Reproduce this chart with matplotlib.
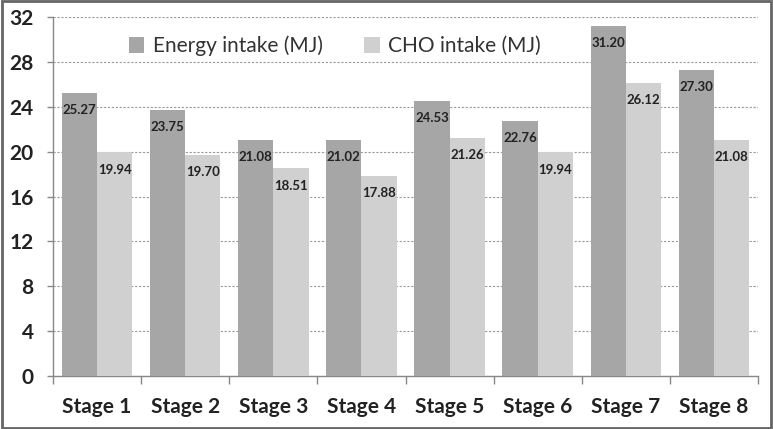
import matplotlib
matplotlib.use("Agg")
import matplotlib.pyplot as plt
import numpy as np
from matplotlib.patches import Rectangle

categories = ["Stage 1", "Stage 2", "Stage 3", "Stage 4", "Stage 5", "Stage 6", "Stage 7", "Stage 8"]
energy = [25.27, 23.75, 21.08, 21.02, 24.53, 22.76, 31.20, 27.30]
cho = [19.94, 19.70, 18.51, 17.88, 21.26, 19.94, 26.12, 21.08]
yticks = [0, 4, 8, 12, 16, 20, 24, 28, 32]

plt.rcParams['font.family'] = ['Lato', 'DejaVu Sans']

fig = plt.figure(figsize=(7.73, 4.29), dpi=100)
ax = fig.add_axes([0.0686, 0.1235, 0.912, 0.8365])

x = np.arange(len(categories))
w = 0.4
b1 = ax.bar(x - w/2, energy, w, color="#a6a6a6", label="Energy intake (MJ)", zorder=3)
b2 = ax.bar(x + w/2, cho, w, color="#d0d0d0", label="CHO intake (MJ)", zorder=3)

for bars, vals in ((b1, energy), (b2, cho)):
    for r, v in zip(bars, vals):
        ax.annotate(f"{v:.2f}", (r.get_x() + r.get_width()/2, v), xytext=(0, -8),
                    textcoords="offset points", ha="center", va="top",
                    fontsize=9.5, fontweight="bold", color="#222222", zorder=4)

ax.set_xlim(-0.5, len(categories) - 0.5)
ax.set_ylim(0, 32)
ax.set_yticks(yticks)
ax.set_yticklabels([str(t) for t in yticks], fontsize=15, fontweight="bold", color="#222222")
ax.yaxis.grid(True, linestyle=(0, (2, 1.5)), color="#999999", linewidth=0.8, zorder=0)
ax.set_axisbelow(True)

ax.set_xticks(x)
ax.set_xticklabels(categories, fontsize=15, fontweight="bold", color="#222222")
ax.tick_params(axis="x", length=0, pad=15)
ax.set_xticks(np.arange(len(categories) + 1) - 0.5, minor=True)
ax.tick_params(axis="x", which="minor", length=6, color="#888888", width=1)
ax.tick_params(axis="y", length=4, color="#888888", width=1, pad=10)

for s in ("top", "right"):
    ax.spines[s].set_visible(False)
for s in ("left", "bottom"):
    ax.spines[s].set_color("#888888")
    ax.spines[s].set_linewidth(1)

leg = ax.legend(loc="center", bbox_to_anchor=(0.40, 0.92), ncol=2, frameon=False,
                fontsize=15, handlelength=0.75, handleheight=0.75, columnspacing=2.0,
                handletextpad=0.4)
for t in leg.get_texts():
    t.set_color("#333333")

fig.patches.append(Rectangle((0.002, 0.003), 0.996, 0.994, transform=fig.transFigure,
                             fill=False, edgecolor="#666666", linewidth=2))

fig.savefig("out.png", dpi=100)
